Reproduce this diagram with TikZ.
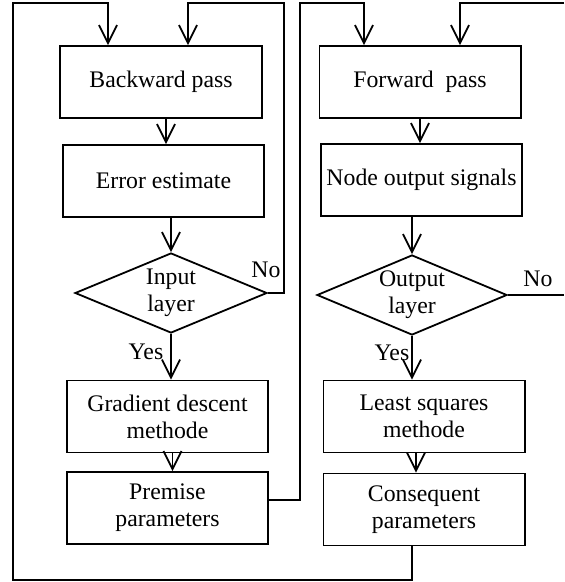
\documentclass[tikz,border=0pt]{standalone}
\usepackage{fontspec}
\setmainfont{Liberation Serif}
\usetikzlibrary{calc}
\usetikzlibrary{shapes.geometric}
\usetikzlibrary{arrows.meta}

\begin{document}
\begin{tikzpicture}[x=0.25mm,y=-0.25mm,line width=0.45mm,
  >={Straight Barb[length=4.5mm,width=4.5mm]},
  font=\fontsize{16.9}{19.2}\selectfont,
  box/.style={draw,rectangle,minimum width=50.3mm,minimum height=18mm,inner sep=1mm,align=center},
  test/.style={draw,diamond,aspect=2.2,minimum width=48mm,minimum height=20mm,inner sep=0pt,align=center}]
  \useasboundingbox (0,0) rectangle (564,582);
  \node[box] (bp) at (161,82) {Backward pass};
  \node[box] (ee) at (163.5,181) {Error estimate};
  \node[test] (il) at (171,293) {Input\\layer};
  \node[box] (gd) at (167.5,416.5) {Gradient descent\\methode};
  \node[box] (pp) at (167.5,508) {Premise\\parameters};
  \node[box] (fp) at (420,82) {Forward\ \ pass};
  \node[box] (no) at (421.5,180) {Node output signals};
  \node[test,minimum width=47.5mm] (ol) at (412,295) {Output\\layer};
  \node[box] (ls) at (424,416.5) {Least squares\\methode};
  \node[box] (cp) at (424,509.5) {Consequent\\parameters};
  \node (no1) at (266,270) {No};
  \node (no2) at (538,279) {No};
  \node (yes1) at (146,352) {Yes};
  \node (yes2) at (392,353) {Yes};
  \coordinate (t1) at (108,3);
  \coordinate (t2) at (188,3);
  \coordinate (r1) at (284,3);
  \coordinate (r2) at (300,3);
  \coordinate (t3) at (364,3);
  \coordinate (t4) at (460,3);
  \coordinate (e1) at (564,3);
  \coordinate (b1) at (13,580);
  \draw[->] ($(bp.south)+(5,0)$) -- ($(bp.south |- ee.north)+(5,0)$);
  \draw[->] (il.north |- ee.south) -- (il.north);
  \draw[->] (il.south) -- (il.south |- gd.north);
  \draw[->] ($(gd.south)+(5,0)$) -- ($(pp.north)+(5,0)$);
  \draw[->] (fp.south) -- (fp.south |- no.north);
  \draw[->] (ol.north |- no.south) -- (ol.north);
  \draw[->] (ol.south) -- (ol.south |- ls.north);
  \draw[->] ($(ls.south)+(-8,0)$) -- ($(cp.north)+(-8,0)$);
  \draw[->] (ol.south |- cp.south) |- (b1) |- (t1) -- (t1 |- bp.north);
  \draw[->] (il.east) -| (r1) -- (t2) -- (t2 |- bp.north);
  \draw[->] ($(pp.east)+(0,-8)$) -| (r2) -- (t3) -- (t3 |- fp.north);
  \draw (ol.east) -- (ol.east -| e1);
  \draw[->] (e1) -- (t4) -- (t4 |- fp.north);
\end{tikzpicture}
\end{document}
